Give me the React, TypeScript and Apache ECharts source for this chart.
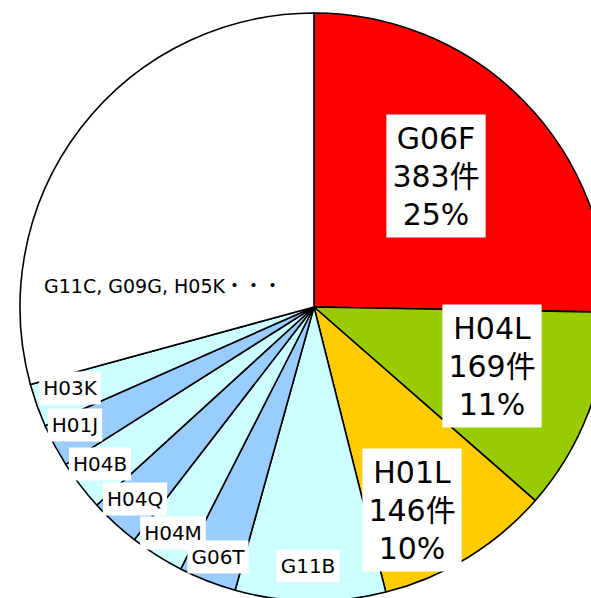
import React, { useEffect, useRef } from "react";
import * as echarts from "echarts";

const categories = ["G06F", "H04L", "H01L", "G11B", "G06T", "H04M", "H04Q", "H04B", "H01J", "H03K", "G11C, G09G, H05K・・・"];
const counts = [383, 169, 146, 125, 48, 45, 42, 42, 36, 36, 443];
const bigLabelCount = 3;

const colors = ["#FF0000", "#99CC00", "#FFCC00", "#CCFFFF", "#99CCFF", "#CCFFFF", "#99CCFF", "#CCFFFF", "#99CCFF", "#CCFFFF", "#FFFFFF"];
const labelPositions: [number, number][] = [
  [436, 176], [492, 366], [412, 510], [308, 566], [218, 557], [173, 533],
  [135, 499], [100, 464], [75, 425], [70, 388], [163, 286],
];

const FONT = "'DejaVu Sans', 'Noto Sans CJK JP', sans-serif";

export default function App() {
  const ref = useRef<HTMLDivElement>(null);
  useEffect(() => {
    document.body.style.margin = "0";
    if (!ref.current) return;
    const chart = echarts.init(ref.current, undefined, { renderer: "svg" });
    const data = categories.map((name, i) => {
      const big = i < bigLabelCount;
      const other = i === categories.length - 1;
      return {
        name,
        value: counts[i],
        itemStyle: { color: colors[i] },
        label: big
          ? {
              formatter: "{b}\n{c}件\n{d}%",
              fontSize: 30,
              lineHeight: 38,
              backgroundColor: "#FFFFFF",
              padding: [5, 6, 4, 6],
            }
          : {
              formatter: "{b}",
              fontSize: other ? 19 : 20,
              lineHeight: 24,
              backgroundColor: other ? "transparent" : "#FFFFFF",
              padding: [5, 4, 4, 4],
            },
      };
    });
    chart.setOption({
      animation: false,
      series: [
        {
          type: "pie",
          center: [314, 307],
          radius: 294,
          startAngle: 90,
          clockwise: true,
          percentPrecision: 0,
          avoidLabelOverlap: false,
          itemStyle: { borderColor: "#000000", borderWidth: 1.6 },
          label: {
            show: true,
            position: "inside",
            color: "#000000",
            fontFamily: FONT,
            align: "center",
          },
          labelLine: { show: false },
          emphasis: { disabled: true },
          labelLayout: (params: any) => {
            const p = labelPositions[params.dataIndex];
            return { x: p[0], y: p[1], align: "center", verticalAlign: "middle" };
          },
          data,
        },
      ],
    });
    return () => chart.dispose();
  }, []);
  return <div ref={ref} style={{ width: 591, height: 598 }} />;
}
